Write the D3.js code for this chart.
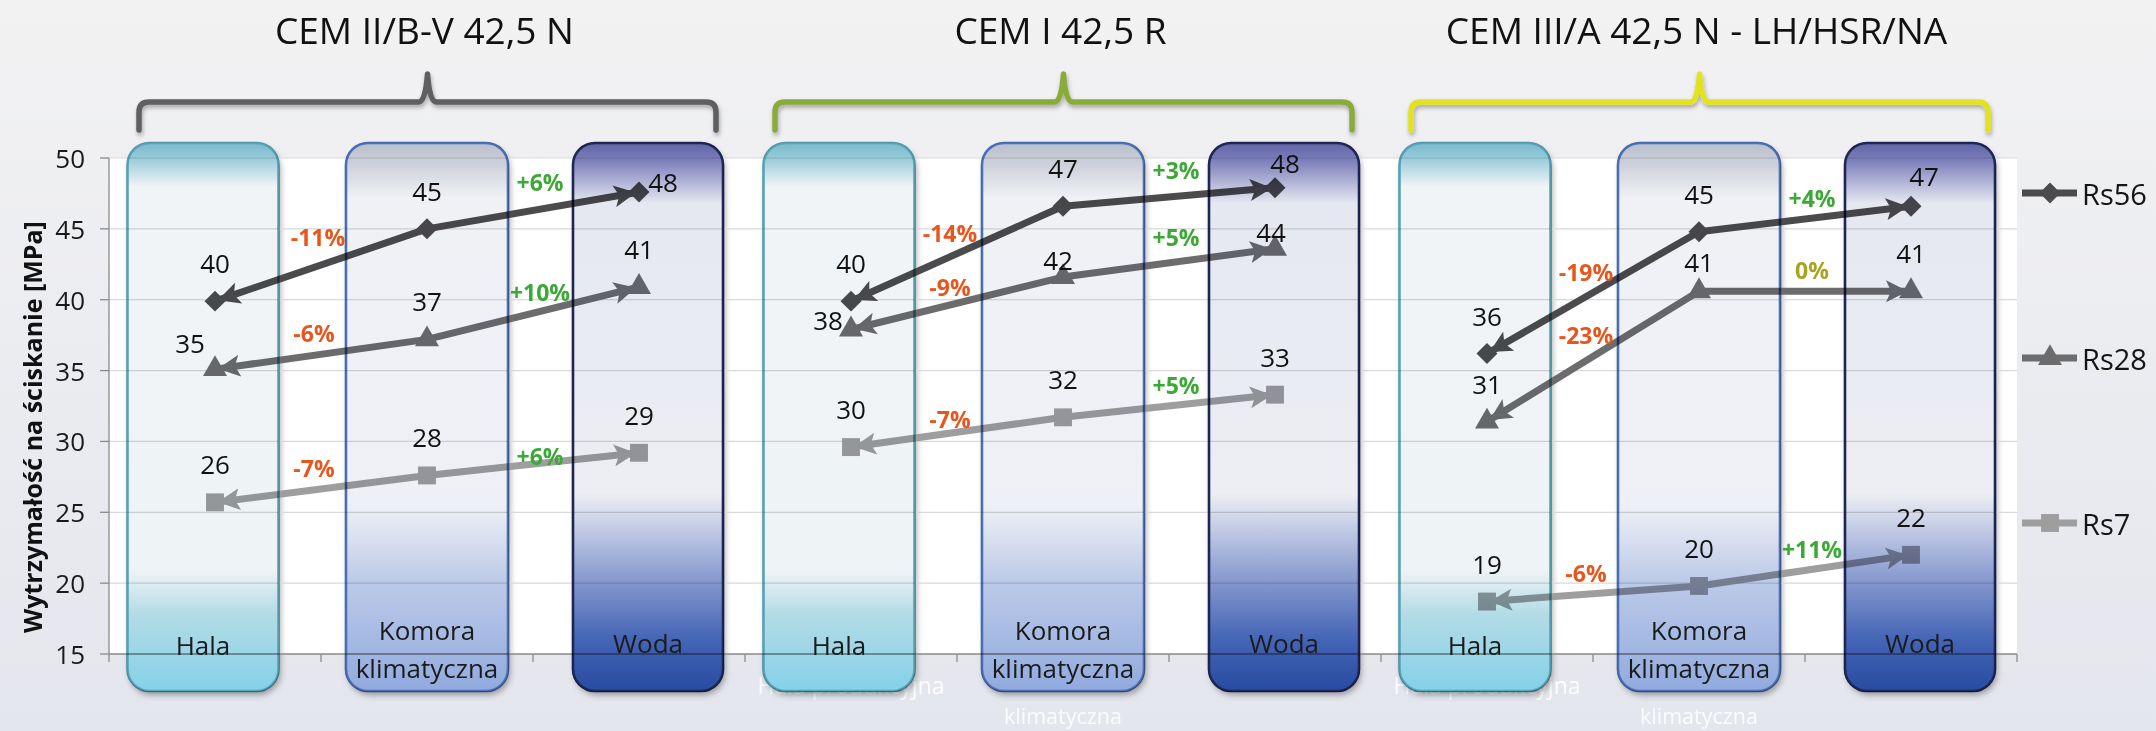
<!DOCTYPE html>
<html>
<head>
<meta charset="utf-8">
<script src="https://cdn.jsdelivr.net/npm/d3@7"></script>
<style>
  html, body { margin: 0; padding: 0; background: #ececf0; }
  svg { display: block; font-family: "Open Sans", "DejaVu Sans", sans-serif; }
</style>
</head>
<body>
<svg id="chart" width="2156" height="731"></svg>
<script>
// ---- data ----------------------------------------------------------------
const cements = ["CEM II/B-V 42,5 N", "CEM I 42,5 R", "CEM III/A 42,5 N - LH/HSR/NA"];
const conditions = ["Hala", "Komora klimatyczna", "Woda"];
// base axis captions that peek out from under the boxes
const baseAxisLabels = ["Hala produkcyjna", "klimatyczna"];
const seriesNames = ["Rs56", "Rs28", "Rs7"];
// compressive strength [MPa], 3 cements x (Hala, Komora klimatyczna, Woda)
const rs56 = [39.9, 45.0, 47.6, 39.9, 46.6, 47.9, 36.2, 44.8, 46.6];
const rs28 = [35.1, 37.2, 40.9, 37.9, 41.6, 43.6, 31.4, 40.6, 40.6];
const rs7  = [25.7, 27.6, 29.2, 29.6, 31.7, 33.3, 18.7, 19.8, 22.0];
const yTicks = [15, 20, 25, 30, 35, 40, 45, 50];

// ---- layout ----------------------------------------------------------------
const W = 2156, H = 731;
const plot = { left: 109, right: 2017, top: 158, bottom: 654 };
const boxTop = 143, boxBottom = 691, boxRadius = 22;

const svg = d3.select("#chart");
const defs = svg.append("defs");

const keys = cements.flatMap((c, ci) => conditions.map((k, ki) => `${ci}|${ki}`));
const x = d3.scaleBand().domain(keys).range([plot.left, plot.right]).padding(0);
const cx = (ci, ki) => x(`${ci}|${ki}`) + x.bandwidth() / 2;
const y = d3.scaleLinear().domain([15, 50]).range([plot.bottom, plot.top]);

const fmtLocale = d3.formatLocale({ decimal: ",", thousands: " ", grouping: [3], currency: ["", " zł"], minus: "-" });
const fmtValue = fmtLocale.format(".0f");
const fmtPct = fmtLocale.format("+.0%");

const series = [
  { name: seriesNames[0], values: rs56, color: "#4b4b4d", symbol: "diamond" },
  { name: seriesNames[1], values: rs28, color: "#6c6c6e", symbol: "triangle" },
  { name: seriesNames[2], values: rs7,  color: "#9e9e9f", symbol: "square" }
];

// ---- defs: gradients, filters, arrowheads ---------------------------------
const bg = defs.append("linearGradient").attr("id", "bg").attr("x1", 0).attr("x2", 0).attr("y1", 0).attr("y2", 1);
bg.append("stop").attr("offset", 0).attr("stop-color", "#f2f2f3");
bg.append("stop").attr("offset", 1).attr("stop-color", "#e4e6ed");

const boxStyles = [
  { dx: -12, w: 151, stroke: "#58a5b8",
    stops: [[0, "#7cbacb"], [0.025, "#93c9d8"], [0.08, "#f1f4f7"], [0.78, "#eef3f5"], [0.86, "#b3dbe6"], [1, "#84d1e8"]] },
  { dx: 0, w: 162, stroke: "#4c72ba",
    stops: [[0, "#b9bfcd"], [0.03, "#c8ccd7"], [0.1, "#f0f1f5"], [0.66, "#eef0f5"], [0.8, "#bccae8"], [1, "#91aade"]] },
  { dx: 9, w: 150, stroke: "#1e2858",
    stops: [[0, "#6163a7"], [0.035, "#7f83bc"], [0.11, "#e6e8f1"], [0.64, "#eceef3"], [0.78, "#91a2d3"], [0.9, "#4767b7"], [1, "#274ba2"]] }
];
boxStyles.forEach((b, i) => {
  const g = defs.append("linearGradient").attr("id", `box${i}`)
    .attr("x1", 0).attr("x2", 0).attr("y1", 0).attr("y2", 1);
  b.stops.forEach(([o, c]) => g.append("stop").attr("offset", o).attr("stop-color", c));
});

const shadow = defs.append("filter").attr("id", "shadow")
  .attr("x", "-20%").attr("y", "-20%").attr("width", "140%").attr("height", "140%");
shadow.append("feDropShadow").attr("dx", 2).attr("dy", 4).attr("stdDeviation", 3)
  .attr("flood-color", "#000").attr("flood-opacity", 0.35);

const soft = defs.append("filter").attr("id", "soft")
  .attr("x", "-10%").attr("y", "-50%").attr("width", "120%").attr("height", "200%");
soft.append("feDropShadow").attr("dx", 1).attr("dy", 3).attr("stdDeviation", 2)
  .attr("flood-color", "#000").attr("flood-opacity", 0.3);

series.forEach((s, i) => {
  defs.append("marker").attr("id", `arrow${i}`)
    .attr("markerUnits", "userSpaceOnUse")
    .attr("viewBox", "0 0 22 22").attr("markerWidth", 22).attr("markerHeight", 22)
    .attr("refX", 21).attr("refY", 11).attr("orient", "auto")
    .append("path").attr("d", "M0,0 L22,11 L0,22 L5,11 Z").attr("fill", s.color);
});

// ---- background & plot area ----------------------------------------------
svg.append("rect").attr("width", W).attr("height", H).attr("fill", "url(#bg)");

// base axis captions (white, mostly hidden behind the boxes)
const baseLabels = svg.append("g").attr("fill", "#ffffff").attr("opacity", 0.9)
  .attr("text-anchor", "middle");
cements.forEach((c, ci) => {
  if (ci === 0) return;
  baseLabels.append("text").attr("x", cx(ci, 0)).attr("y", 685).attr("font-size", 23)
    .attr("dominant-baseline", "central").text(baseAxisLabels[0]);
  baseLabels.append("text").attr("x", cx(ci, 1)).attr("y", 715).attr("font-size", 21.5)
    .attr("dominant-baseline", "central").text(baseAxisLabels[1]);
});

svg.append("rect").attr("x", plot.left).attr("y", plot.top)
  .attr("width", plot.right - plot.left).attr("height", plot.bottom - plot.top)
  .attr("fill", "#ffffff");

// white bases under the condition boxes (carry the drop shadow)
const boxData = [];
cements.forEach((c, ci) => conditions.forEach((k, ki) => {
  const st = boxStyles[ki];
  boxData.push({ ci, ki, x0: cx(ci, ki) + st.dx - st.w / 2, w: st.w, st });
}));
svg.append("g").selectAll("rect").data(boxData).join("rect")
  .attr("x", d => d.x0).attr("y", boxTop).attr("width", d => d.w).attr("height", boxBottom - boxTop)
  .attr("rx", boxRadius).attr("fill", "#ffffff").attr("filter", "url(#shadow)");

// gridlines
svg.append("g").selectAll("line").data(yTicks.filter(t => t > 15)).join("line")
  .attr("x1", plot.left).attr("x2", plot.right)
  .attr("y1", d => y(d)).attr("y2", d => y(d))
  .attr("stroke", "#d9d9d9").attr("stroke-width", 1.2);

// axes
const axisG = svg.append("g").attr("stroke", "#8a8a8a").attr("stroke-width", 1.3);
axisG.append("line").attr("x1", plot.left).attr("x2", plot.left).attr("y1", plot.top).attr("y2", plot.bottom);
axisG.append("line").attr("x1", plot.left).attr("x2", plot.right).attr("y1", plot.bottom).attr("y2", plot.bottom);
axisG.selectAll(".ytick").data(yTicks).join("line")
  .attr("x1", plot.left - 9).attr("x2", plot.left).attr("y1", d => y(d)).attr("y2", d => y(d));
const xEdges = keys.map(k => x(k)).concat([x(keys[keys.length - 1]) + x.bandwidth()]);
axisG.selectAll(".xtick").data(xEdges).join("line")
  .attr("x1", d => d).attr("x2", d => d).attr("y1", plot.bottom).attr("y2", plot.bottom + 8);

svg.append("g").attr("font-size", 26).attr("fill", "#1a1a1a").attr("text-anchor", "end")
  .selectAll("text").data(yTicks).join("text")
  .attr("x", plot.left - 24).attr("y", d => y(d)).attr("dominant-baseline", "central")
  .text(d => d);

svg.append("text")
  .attr("transform", `translate(32,427) rotate(-90)`)
  .attr("text-anchor", "middle").attr("dominant-baseline", "central")
  .attr("font-size", 25).attr("font-weight", 700).attr("fill", "#111")
  .text("Wytrzymałość na ściskanie [MPa]");

// ---- series lines with arrows (from Komora outwards) ----------------------
const symbolPath = {
  diamond: d3.symbol(d3.symbolSquare, 220)(),
  triangle: d3.symbol(d3.symbolTriangle, 250)(),
  square: d3.symbol(d3.symbolSquare, 320)()
};
const symbolRotate = { diamond: 45, triangle: 0, square: 0 };

const linesG = svg.append("g");
const marksG = svg.append("g");
series.forEach((s, si) => {
  cements.forEach((c, ci) => {
    const mid = { x: cx(ci, 1), y: y(s.values[ci * 3 + 1]) };
    [0, 2].forEach(ki => {
      const end = { x: cx(ci, ki), y: y(s.values[ci * 3 + ki]) };
      const len = Math.hypot(end.x - mid.x, end.y - mid.y);
      const cut = 4;
      linesG.append("line")
        .attr("x1", mid.x).attr("y1", mid.y)
        .attr("x2", end.x - (end.x - mid.x) / len * cut)
        .attr("y2", end.y - (end.y - mid.y) / len * cut)
        .attr("stroke", s.color).attr("stroke-width", 7)
        .attr("marker-end", `url(#arrow${si})`);
    });
    conditions.forEach((k, ki) => {
      marksG.append("path").attr("d", symbolPath[s.symbol]).attr("fill", s.color)
        .attr("transform", `translate(${cx(ci, ki)},${y(s.values[ci * 3 + ki])}) rotate(${symbolRotate[s.symbol]})`);
    });
  });
});

// ---- condition boxes (tinted glass over the plot) -------------------------
svg.append("g").selectAll("rect").data(boxData).join("rect")
  .attr("x", d => d.x0).attr("y", boxTop).attr("width", d => d.w).attr("height", boxBottom - boxTop)
  .attr("rx", boxRadius).attr("fill", d => `url(#box${d.ki})`)
  .attr("stroke", d => d.st.stroke).attr("stroke-width", 2.6)
  .style("mix-blend-mode", "multiply");

// condition names inside boxes
const condG = svg.append("g").attr("font-size", 26).attr("fill", "#1b1b1b").attr("text-anchor", "middle");
boxData.forEach(d => {
  const cxBox = d.x0 + d.w / 2;
  if (d.ki === 1) {
    conditions[1].split(" ").forEach((ln, li) => condG.append("text")
      .attr("x", cxBox).attr("y", 630 + li * 38).attr("dominant-baseline", "central").text(ln));
  } else {
    condG.append("text").attr("x", cxBox).attr("y", d.ki === 0 ? 645 : 643)
      .attr("dominant-baseline", "central").text(conditions[d.ki]);
  }
});

// ---- value labels ---------------------------------------------------------
const valueNudge = {
  "0|1|0": [-25, 12], "0|0|2": [24, 28],
  "1|1|0": [-23, 29], "1|1|1": [-5, 21], "1|0|2": [10, 13], "1|1|2": [-4, 21],
  "2|1|1": [0, 9], "2|0|2": [13, 8]
};
const valG = svg.append("g").attr("font-size", 26).attr("fill", "#111").attr("text-anchor", "middle");
series.forEach((s, si) => cements.forEach((c, ci) => conditions.forEach((k, ki) => {
  const v = s.values[ci * 3 + ki];
  const n = valueNudge[`${ci}|${si}|${ki}`] || [0, 0];
  valG.append("text")
    .attr("x", cx(ci, ki) + n[0]).attr("y", y(v) - 38 + n[1])
    .attr("dominant-baseline", "central").text(fmtValue(v));
})));

// ---- percentage change labels (relative to Komora klimatyczna) -----------
const pctNudge = {
  "0|0|0": [4, -7], "0|0|2": [0, -7], "0|2|2": [0, 13],
  "1|1|0": [0, 5], "1|2|0": [0, 8], "1|0|2": [0, -6], "1|1|2": [0, -5]
};
const pctG = svg.append("g").attr("font-size", 23).attr("font-weight", 700).attr("text-anchor", "middle");
series.forEach((s, si) => cements.forEach((c, ci) => {
  const base = s.values[ci * 3 + 1];
  [0, 2].forEach(ki => {
    const v = s.values[ci * 3 + ki];
    const pct = v / base - 1;
    const mx = (cx(ci, ki) + cx(ci, 1)) / 2 + (ki === 0 ? -7 : 7);
    const my = (y(v) + y(base)) / 2 - 21;
    const n = pctNudge[`${ci}|${si}|${ki}`] || [0, 0];
    pctG.append("text")
      .attr("x", mx + n[0]).attr("y", my + n[1]).attr("dominant-baseline", "central")
      .attr("fill", pct > 0 ? "#3aa935" : pct < 0 ? "#e8561d" : "#a8a51c")
      .text(Math.abs(pct) < 1e-9 ? "0%" : fmtPct(pct));
  });
}));

// ---- brackets and cement titles -------------------------------------------
const bracketColors = ["#5e5e5e", "#8aab3b", "#e2e224"];
const bracketY = 102, bracketEnd = 130, bracketPeak = 74;
cements.forEach((c, ci) => {
  const x0 = cx(ci, 0) - 76, x1 = cx(ci, 2) + 77, xm = (x0 + x1) / 2;
  const p = d3.path();
  p.moveTo(x0, bracketEnd);
  p.lineTo(x0, bracketY + 10);
  p.quadraticCurveTo(x0, bracketY, x0 + 10, bracketY);
  p.lineTo(xm - 9, bracketY);
  p.quadraticCurveTo(xm - 2, bracketY, xm, bracketPeak);
  p.quadraticCurveTo(xm + 2, bracketY, xm + 9, bracketY);
  p.lineTo(x1 - 10, bracketY);
  p.quadraticCurveTo(x1, bracketY, x1, bracketY + 10);
  p.lineTo(x1, bracketEnd);
  svg.append("path").attr("d", p.toString()).attr("fill", "none")
    .attr("stroke", bracketColors[ci]).attr("stroke-width", 5.5)
    .attr("stroke-linecap", "round").attr("stroke-linejoin", "round")
    .attr("filter", "url(#soft)");
  svg.append("text").attr("x", xm - 3).attr("y", 44)
    .attr("text-anchor", "middle").attr("font-size", 37).attr("fill", "#111")
    .text(c);
});

// ---- legend ----------------------------------------------------------------
const legend = svg.append("g");
series.forEach((s, si) => {
  const ly = 193 + si * 165;
  legend.append("line").attr("x1", 2022).attr("x2", 2077).attr("y1", ly).attr("y2", ly)
    .attr("stroke", s.color).attr("stroke-width", 7);
  legend.append("path").attr("d", symbolPath[s.symbol]).attr("fill", s.color)
    .attr("transform", `translate(2050,${ly}) rotate(${symbolRotate[s.symbol]})`);
  legend.append("text").attr("x", 2082).attr("y", ly).attr("dominant-baseline", "central")
    .attr("font-size", 29).attr("fill", "#151515").text(s.name);
});
</script>
</body>
</html>
